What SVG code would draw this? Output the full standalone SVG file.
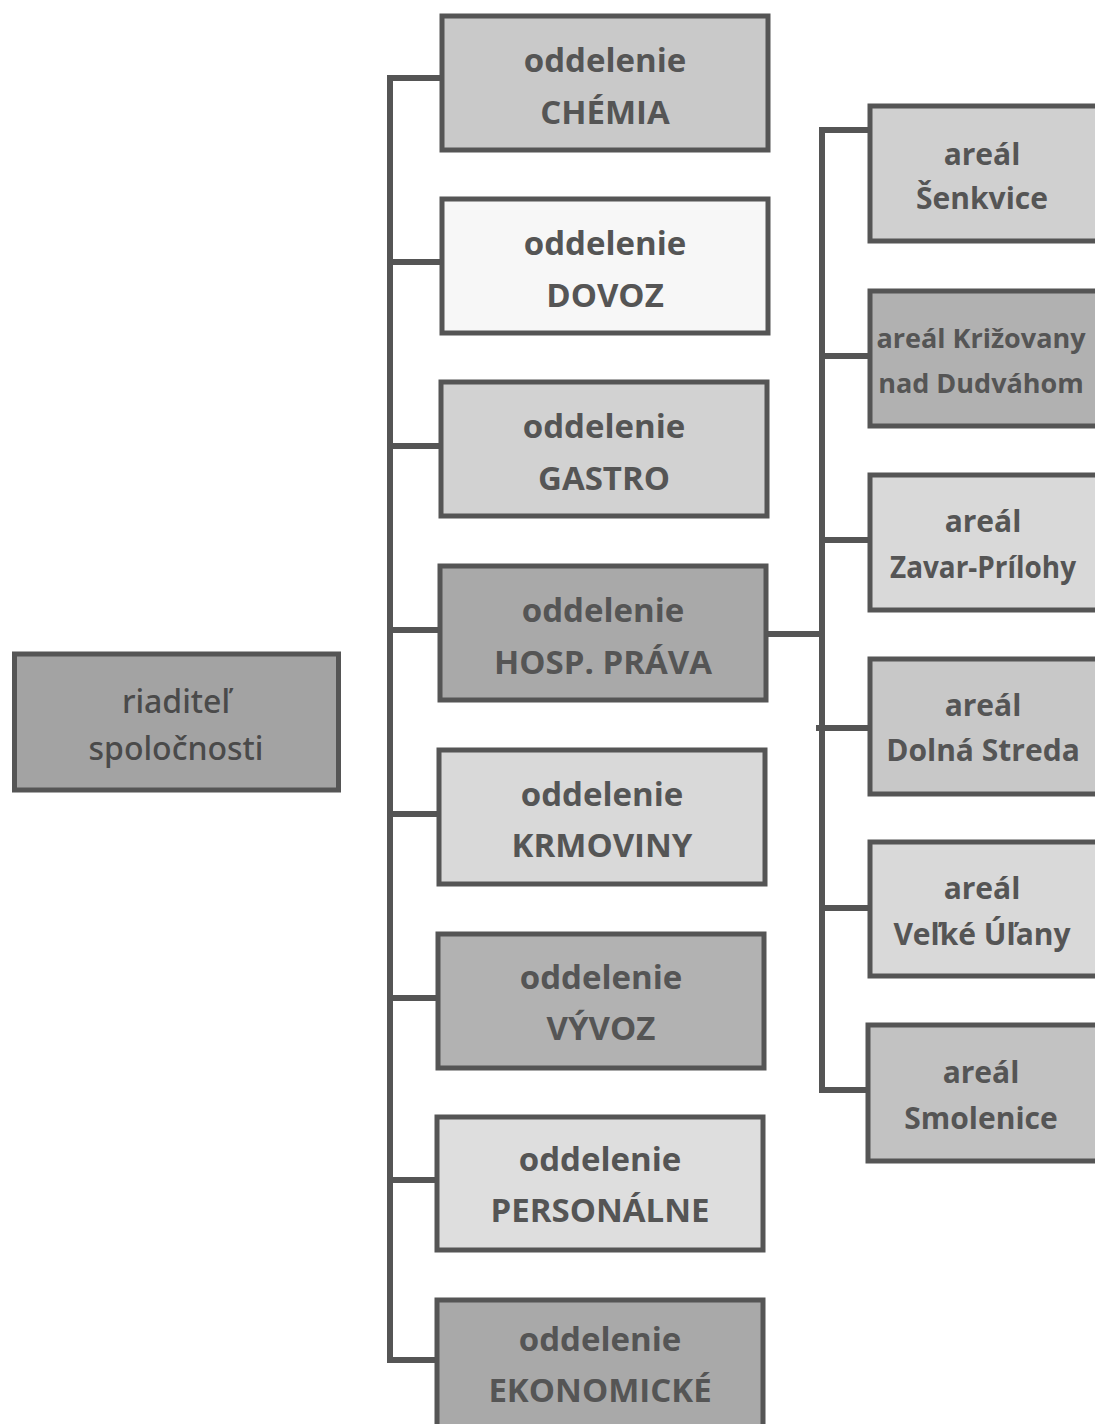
<svg xmlns="http://www.w3.org/2000/svg" width="1095" height="1424" viewBox="0 0 1095 1424">
<style>
.box{stroke:#555;stroke-width:5}
.t{font-family:"Open Sans","Noto Sans",sans-serif;font-weight:700;font-size:33px;fill:#555;text-anchor:middle}
.a{font-size:30px}
.k{font-size:27px}
.r{font-family:"Noto Sans","DejaVu Sans",sans-serif;font-weight:500;font-size:32px;fill:#4a4a4a;text-anchor:middle}
.c{fill:none;stroke:#555;stroke-width:6}
</style>
<rect width="1095" height="1424" fill="#fff"/>
<g id="connectors">
<path class="c" d="M390 75V1360M387 78H442M390 262H442M390 446H442M390 630H442M390 814H442M390 998H442M390 1180H442M387 1360H442"/>
<path class="c" d="M768 634H822M822 127V1093M819 130H870M822 356H870M822 540H870M816 728H870M822 908H870M819 1090H870"/>
</g>
<g id="root"><rect class="box" x="14.5" y="654" width="324" height="136" fill="#a3a3a3"/><text class="r" x="176" y="713">riaditeľ</text><text class="r" x="176" y="760">spoločnosti</text></g>
<g id="chemia"><rect class="box" x="442" y="16" width="326" height="134" fill="#c9c9c9"/><text class="t" x="605" y="72">oddelenie</text><text class="t" x="605" y="124">CHÉMIA</text></g>
<g id="dovoz"><rect class="box" x="442" y="199" width="326" height="134" fill="#f7f7f7"/><text class="t" x="605" y="255">oddelenie</text><text class="t" x="605" y="307">DOVOZ</text></g>
<g id="gastro"><rect class="box" x="441" y="382" width="326" height="134" fill="#d2d2d2"/><text class="t" x="604" y="438">oddelenie</text><text class="t" x="604" y="490">GASTRO</text></g>
<g id="hosp"><rect class="box" x="440" y="566" width="326" height="134" fill="#a9a9a9"/><text class="t" x="603" y="622">oddelenie</text><text class="t" x="603" y="674">HOSP. PRÁVA</text></g>
<g id="krmoviny"><rect class="box" x="439" y="750" width="326" height="134" fill="#d9d9d9"/><text class="t" x="602" y="806">oddelenie</text><text class="t" x="602" y="857">KRMOVINY</text></g>
<g id="vyvoz"><rect class="box" x="438" y="934" width="326" height="134" fill="#b2b2b2"/><text class="t" x="601" y="989">oddelenie</text><text class="t" x="601" y="1040">VÝVOZ</text></g>
<g id="personalne"><rect class="box" x="437" y="1117" width="326" height="133" fill="#dedede"/><text class="t" x="600" y="1171">oddelenie</text><text class="t" x="600" y="1222">PERSONÁLNE</text></g>
<g id="ekonomicke"><rect class="box" x="437" y="1300" width="326" height="140" fill="#a9a9a9"/><text class="t" x="600" y="1351">oddelenie</text><text class="t" x="600" y="1402">EKONOMICKÉ</text></g>
<g id="senkvice"><rect class="box" x="870" y="106" width="232" height="135" fill="#d0d0d0"/><text class="t a" x="982" y="165">areál</text><text class="t a" x="982" y="209">Šenkvice</text></g>
<g id="krizovany"><rect class="box" x="870" y="291" width="232" height="135" fill="#b1b1b1"/><text class="t k" x="981" y="348">areál Križovany</text><text class="t k" x="981" y="393">nad Dudváhom</text></g>
<g id="zavar"><rect class="box" x="870" y="475" width="232" height="135" fill="#d9d9d9"/><text class="t a" x="983" y="532">areál</text><text class="t a" x="983" y="578" textLength="186" lengthAdjust="spacingAndGlyphs">Zavar-Prílohy</text></g>
<g id="dolna"><rect class="box" x="870" y="659" width="232" height="135" fill="#c8c8c8"/><text class="t a" x="983" y="716">areál</text><text class="t a" x="983" y="761">Dolná Streda</text></g>
<g id="velke"><rect class="box" x="870" y="842" width="232" height="134" fill="#d9d9d9"/><text class="t a" x="982" y="899">areál</text><text class="t a" x="982" y="945">Veľké Úľany</text></g>
<g id="smolenice"><rect class="box" x="868" y="1025" width="232" height="136" fill="#c2c2c2"/><text class="t a" x="981" y="1083">areál</text><text class="t a" x="981" y="1129">Smolenice</text></g>
</svg>
